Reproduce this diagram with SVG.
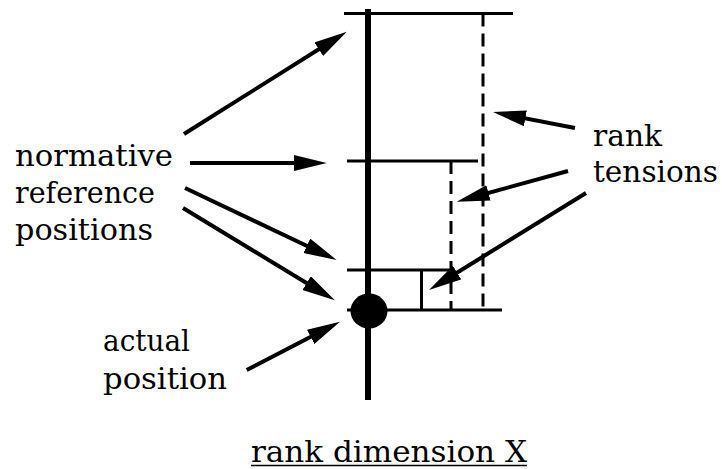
<svg xmlns="http://www.w3.org/2000/svg" width="722" height="469" viewBox="0 0 722 469">
<style>
  .lbl { font-family: "DejaVu Serif", "Liberation Serif", serif; font-size: 30px; fill: #000; }
  .axis { stroke: #000; stroke-width: 6; fill: none; }
  .ref { stroke: #000; stroke-width: 3; fill: none; }
  .dash { stroke: #000; stroke-width: 3; fill: none; stroke-dasharray: 13 7; }
  .arr { stroke: #000; stroke-width: 4; fill: none; marker-end: url(#ah); }
</style>
<defs>
  <marker id="ah" markerUnits="userSpaceOnUse" markerWidth="34" markerHeight="17" refX="23" refY="8" orient="auto" viewBox="0 0 34 17">
    <path d="M0,0 L33,8 L0,16 Z" fill="#000"/>
  </marker>
</defs>
<g id="axis">
  <line class="axis" x1="368" y1="9" x2="368" y2="400"/>
</g>
<g id="ref-top">
  <line class="ref" x1="344" y1="13.5" x2="513" y2="13.5"/>
</g>
<g id="ref-mid">
  <line class="ref" x1="347" y1="161" x2="478" y2="161"/>
</g>
<g id="ref-low">
  <line class="ref" x1="347" y1="270" x2="452" y2="270"/>
</g>
<g id="actual-line">
  <line class="ref" x1="347" y1="310" x2="502" y2="310"/>
</g>
<g id="tension-outer">
  <line class="dash" x1="483" y1="13.5" x2="483" y2="310"/>
</g>
<g id="tension-inner">
  <line class="dash" x1="451" y1="161" x2="451" y2="310"/>
</g>
<g id="tension-low">
  <line class="ref" x1="421.5" y1="270" x2="421.5" y2="310"/>
</g>
<g id="actual-dot">
  <ellipse cx="369" cy="311" rx="18.5" ry="17.5" fill="#000"/>
</g>
<g id="label-normative">
  <text class="lbl" x="15" y="166" textLength="158" lengthAdjust="spacingAndGlyphs">normative</text>
  <text class="lbl" x="15" y="203" textLength="140" lengthAdjust="spacingAndGlyphs">reference</text>
  <text class="lbl" x="15" y="240" textLength="138" lengthAdjust="spacingAndGlyphs">positions</text>
</g>
<g id="label-rank">
  <text class="lbl" x="593" y="146" textLength="69" lengthAdjust="spacingAndGlyphs">rank</text>
  <text class="lbl" x="593" y="181.5" textLength="125" lengthAdjust="spacingAndGlyphs">tensions</text>
</g>
<g id="label-actual">
  <text class="lbl" x="103" y="351" textLength="87" lengthAdjust="spacingAndGlyphs">actual</text>
  <text class="lbl" x="103" y="388.5" textLength="124" lengthAdjust="spacingAndGlyphs">position</text>
</g>
<g id="label-axis">
  <text class="lbl" x="251" y="461.5" textLength="276" lengthAdjust="spacingAndGlyphs">rank dimension X</text>
  <line x1="251" y1="465.5" x2="527" y2="465.5" stroke="#000" stroke-width="1.5"/>
</g>
<g id="connectors">
  <line class="arr" x1="184" y1="134" x2="338.3" y2="37"/>
  <line class="arr" x1="190" y1="163" x2="316.7" y2="163"/>
  <line class="arr" x1="185" y1="188" x2="327.6" y2="255.7"/>
  <line class="arr" x1="183" y1="208" x2="326.3" y2="295"/>
  <line class="arr" x1="246.7" y1="370" x2="331.1" y2="326.3"/>
  <line class="arr" x1="575" y1="128" x2="502.8" y2="113.9"/>
  <line class="arr" x1="568" y1="171" x2="466.3" y2="199"/>
  <line class="arr" x1="586" y1="193" x2="437.5" y2="284.7"/>
</g>
</svg>
